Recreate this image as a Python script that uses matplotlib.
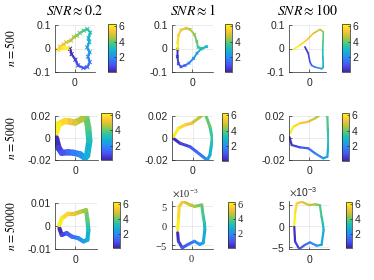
import numpy as np
import matplotlib
matplotlib.use("Agg")
import matplotlib.pyplot as plt
from matplotlib.collections import LineCollection
from matplotlib.colors import LinearSegmentedColormap, Normalize
from matplotlib.ticker import ScalarFormatter, FuncFormatter

plt.rcParams['font.family'] = ['Liberation Sans', 'DejaVu Sans']
plt.rcParams['mathtext.fontset'] = 'stix'
plt.rcParams['axes.unicode_minus'] = False

# labels
snr_labels = [r"$SNR \approx 0.2$", r"$SNR \approx 1$", r"$SNR \approx 100$"]
n_labels = [r"$n \,{=}500$", r"$n \,{=}5000$", r"$n \,{=}50000$"]
cbar_ticks = [2, 4, 6]
t_start, t_end = 0.1, 2 * np.pi

# curves, traversed from t_start (blue) to t_end (yellow)
# n = 500
x_500_02 = [-0.025, -0.017, 0.002, 0.015, 0.042, 0.062, 0.074, 0.065, 0.073, 0.061, 0.071, 0.068,
            0.076, 0.062, 0.044, 0.024, 0.010, -0.006, -0.020, -0.044, -0.056, -0.076, -0.084, -0.060, -0.035]
y_500_02 = [-0.001, -0.024, -0.048, -0.072, -0.083, -0.079, -0.058, -0.035, -0.016, 0.005, 0.027, 0.045,
            0.068, 0.083, 0.076, 0.066, 0.055, 0.049, 0.034, 0.027, 0.017, 0.008, -0.006, 0.001, 0.002]
x_500_1 = [-0.072, -0.073, -0.068, -0.055, -0.035, -0.015, 0.008, 0.025, 0.045, 0.073, 0.050,
           0.030, 0.024, 0.012, -0.010, -0.030, -0.055, -0.068, -0.072, -0.072]
y_500_1 = [-0.003, -0.035, -0.065, -0.078, -0.072, -0.062, -0.042, -0.020, -0.002, 0.008, 0.000,
           0.005, 0.030, 0.060, 0.082, 0.086, 0.079, 0.055, 0.025, -0.001]
x_500_100 = [-0.022, -0.005, 0.003, 0.012, 0.028, 0.062, 0.070, 0.068, 0.067, 0.069, 0.070,
             0.053, 0.020, -0.013, -0.047, -0.080]
y_500_100 = [0.007, -0.021, -0.057, -0.072, -0.079, -0.086, -0.079, -0.040, -0.007, 0.035, 0.071,
             0.081, 0.064, 0.036, 0.014, -0.004]

# n = 5000
x_5000_02 = [-0.0173, -0.0150, -0.0120, -0.0060, -0.0015, 0.0045, 0.0090, 0.0110, 0.0130, 0.0125,
             0.0120, 0.0100, 0.0060, 0.0000, -0.0050, -0.0090, -0.0150, -0.0173]
y_5000_02 = [0.0000, -0.0090, -0.0134, -0.0130, -0.0134, -0.0148, -0.0180, -0.0160, -0.0027, 0.0035,
             0.0094, 0.0200, 0.0170, 0.0140, 0.0150, 0.0155, 0.0125, 0.0050]
x_5000_1 = [-0.0176, -0.0115, -0.0025, 0.0036, 0.0112, 0.0136, 0.0157, 0.0168, 0.0178, 0.0157,
            0.0112, 0.0051, -0.0009, -0.0070, -0.0130, -0.0176]
y_5000_1 = [-0.0003, -0.0048, -0.0079, -0.0125, -0.0185, -0.0194, -0.0155, -0.0080, -0.0003, 0.0103,
            0.0224, 0.0179, 0.0134, 0.0118, 0.0088, 0.0012]
x_5000_100 = [-0.0182, -0.0160, -0.0085, -0.0009, 0.0052, 0.0127, 0.0164, 0.0170, 0.0173, 0.0168,
              0.0164, 0.0127, 0.0052, -0.0009, -0.0085, -0.0145, -0.0175]
y_5000_100 = [0.0010, -0.0064, -0.0085, -0.0094, -0.0139, -0.0185, -0.0170, -0.0090, -0.0018, 0.0090,
              0.0194, 0.0230, 0.0179, 0.0148, 0.0134, 0.0103, 0.0043]

# n = 50000
x_50000_02 = [-0.0067, -0.0057, -0.0036, -0.0014, 0.0014, 0.0036, 0.0053, 0.0057, 0.0055, 0.0053,
              0.0047, 0.0021, 0.0000, -0.0029, -0.0057, -0.0067]
y_50000_02 = [-0.0010, -0.0039, -0.0031, -0.0046, -0.0053, -0.0067, -0.0060, -0.0017, 0.0005, 0.0026,
              0.0069, 0.0061, 0.0054, 0.0054, 0.0033, 0.0004]
x_50000_1 = [-0.0036, -0.0034, -0.0024, -0.0009, 0.0007, 0.0021, 0.0030, 0.0034, 0.0033, 0.0030,
             0.0026, 0.0008, -0.0004, -0.0022, -0.0032, -0.0034, -0.0036]
y_50000_1 = [-0.0018, -0.0040, -0.0057, -0.0048, -0.0040, -0.0048, -0.0044, -0.0010, 0.0007, 0.0024,
             0.0054, 0.0050, 0.0054, 0.0063, 0.0050, 0.0016, -0.0010]
x_50000_100 = [-0.0036, -0.0034, -0.0024, -0.0010, 0.0002, 0.0018, 0.0030, 0.0035, 0.0033, 0.0030,
               0.0026, 0.0014, 0.0000, -0.0018, -0.0030, -0.0034, -0.0036]
y_50000_100 = [-0.0002, -0.0038, -0.0056, -0.0046, -0.0040, -0.0048, -0.0046, -0.0010, 0.0006, 0.0022,
               0.0050, 0.0052, 0.0050, 0.0058, 0.0054, 0.0030, 0.0002]

curves = [[(x_500_02, y_500_02), (x_500_1, y_500_1), (x_500_100, y_500_100)],
          [(x_5000_02, y_5000_02), (x_5000_1, y_5000_1), (x_5000_100, y_5000_100)],
          [(x_50000_02, y_50000_02), (x_50000_1, y_50000_1), (x_50000_100, y_50000_100)]]

# layout in pixels: axes box, colorbar box (x0, y0, x1, y1 from top-left)
ax_px = [[(55, 25, 95, 72), (172, 25, 213, 72), (289, 25, 326, 72)],
         [(55, 116, 98, 160), (172, 116, 213, 160), (289, 116, 329, 160)],
         [(55, 203, 97, 249), (172, 201, 213, 249), (289, 201, 329, 249)]]
cb_px = [[(108, 24, 116, 72), (225, 24, 232, 72), (342, 24, 350, 72)],
         [(101, 113, 112, 160), (222, 113, 228, 161), (342, 113, 349, 161)],
         [(113, 202, 120, 248), (228, 202, 235, 248), (346, 202, 352, 248)]]
xlims = [[(-0.1, 0.1), (-0.1, 0.105), (-0.1015, 0.0835)],
         [(-0.0182, 0.0209), (-0.0188, 0.0185), (-0.0185, 0.0179)],
         [(-0.0086, 0.0094), (-0.00505, 0.0055), (-0.00487, 0.0048)]]
ylims = [[(-0.1, 0.1)] * 3,
         [(-0.02, 0.02)] * 3,
         [(-0.01, 0.01), (-0.0060, 0.0064), (-0.0056, 0.0060)]]
yticks = [[-0.1, 0, 0.1], [-0.02, 0, 0.02], [-0.01, 0, 0.01]]
line_w = [[1.6, 1.4, 1.2], [4.5, 2.2, 1.6], [3.0, 2.2, 1.6]]
dots = [[8, 4, 0], [0, 0, 0], [0, 0, 0]]

parula = LinearSegmentedColormap.from_list("parula", [
    (0.2422, 0.1504, 0.6603), (0.2810, 0.3228, 0.9579), (0.1786, 0.5289, 0.9682),
    (0.0689, 0.6948, 0.8394), (0.2161, 0.7843, 0.5923), (0.6720, 0.7793, 0.2227),
    (0.9970, 0.7659, 0.2199), (0.9769, 0.9839, 0.0805)])
norm = Normalize(t_start, t_end)

W, H = 374, 280
fig = plt.figure(figsize=(W / 100, H / 100), dpi=100)


def rect(box):
    x0, y0, x1, y1 = box
    return [x0 / W, 1 - y1 / H, (x1 - x0) / W, (y1 - y0) / H]


def draw_curve(ax, x, y, lw, dot):
    x = np.asarray(x)
    y = np.asarray(y)
    t = np.linspace(t_start, t_end, len(x))
    pts = np.column_stack([x, y]).reshape(-1, 1, 2)
    segs = np.concatenate([pts[:-1], pts[1:]], axis=1)
    lc = LineCollection(segs, cmap=parula, norm=norm, linewidths=lw, capstyle='round', joinstyle='round')
    lc.set_array((t[:-1] + t[1:]) / 2)
    ax.add_collection(lc)
    if dot:
        ax.scatter(x, y, c=t, cmap=parula, norm=norm, s=dot, marker='x', linewidths=0.7, zorder=3)


plain = FuncFormatter(lambda v, p: "%g" % v)

for r in range(3):
    for c in range(3):
        serif = (r == 2 and c == 1)
        ax = fig.add_axes(rect(ax_px[r][c]))
        x, y = curves[r][c]
        draw_curve(ax, x, y, line_w[r][c], dots[r][c])
        ax.set_xlim(*xlims[r][c])
        ax.set_ylim(*ylims[r][c])
        ax.set_xticks([0])
        ax.xaxis.set_major_formatter(plain)
        if r == 2 and c > 0:
            ax.set_yticks([-0.005, 0, 0.005])
            fmt = ScalarFormatter(useMathText=True)
            fmt.set_powerlimits((-2, 2))
            ax.yaxis.set_major_formatter(fmt)
            ax.yaxis.get_offset_text().set_fontsize(7.5)
            if serif:
                ax.yaxis.get_offset_text().set_family('Liberation Serif')
        else:
            ax.set_yticks(yticks[r])
            ax.yaxis.set_major_formatter(plain)
        ax.tick_params(direction='in', length=2, width=0.5, pad=3, colors='#262626', labelsize=7.5)
        ax.tick_params(axis='x', pad=4)
        if serif:
            for lab in ax.get_xticklabels() + ax.get_yticklabels():
                lab.set_family('Liberation Serif')
        ax.grid(True, color='#e3e3e3', linewidth=0.5)
        ax.set_axisbelow(True)
        for s in ['top', 'right']:
            ax.spines[s].set_visible(False)
        for s in ['left', 'bottom']:
            ax.spines[s].set_color('#262626')
            ax.spines[s].set_linewidth(0.5)
        if r == 0:
            ax.set_title(snr_labels[c], fontsize=10, pad=7)
        if c == 0:
            fig.text(11 / W, 1 - ((ax_px[r][c][1] + ax_px[r][c][3]) / 2) / H, n_labels[r],
                     rotation=90, ha='center', va='center', fontsize=8.5)

        cax = fig.add_axes(rect(cb_px[r][c]))
        sm = plt.cm.ScalarMappable(norm=norm, cmap=parula)
        cb = fig.colorbar(sm, cax=cax, ticks=cbar_ticks)
        cb.outline.set_linewidth(0.5)
        cb.outline.set_edgecolor('#262626')
        cax.tick_params(direction='in', length=1.5, width=0.5, pad=2, labelsize=7.5, colors='#262626')
        if serif:
            for lab in cax.get_yticklabels():
                lab.set_family('Liberation Serif')

fig.savefig("out.png", dpi=100)
